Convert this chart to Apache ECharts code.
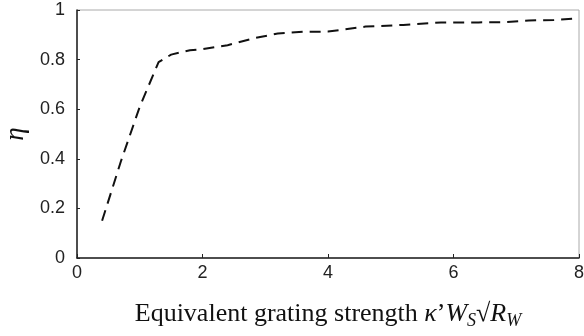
<!DOCTYPE html>
<html>
<head>
<meta charset="utf-8">
<script src="https://cdn.jsdelivr.net/npm/echarts@6/dist/echarts.min.js"></script>
<style>
  html, body { margin: 0; padding: 0; background: #fff; }
  #chart { width: 584px; height: 336px; }
</style>
</head>
<body>
<div id="chart"></div>
<script>
// grating strength vs efficiency
const strength = [0.4, 0.7, 1.0, 1.3, 1.5, 1.8, 2.0, 2.4, 2.8, 3.2, 3.6, 4.0, 4.6, 5.2, 5.8, 6.4, 6.8, 7.2, 7.6, 8.0];
const eta = [0.15, 0.39, 0.61, 0.79, 0.82, 0.838, 0.842, 0.858, 0.885, 0.905, 0.912, 0.913, 0.933, 0.94, 0.95, 0.95, 0.951, 0.958, 0.96, 0.967];
const xTicks = [0, 2, 4, 6, 8];
const yTicks = [0, 0.2, 0.4, 0.6, 0.8, 1];

const chart = echarts.init(document.getElementById("chart"));
chart.setOption({
  animation: false,
  grid: {
    left: 77,
    right: 5,
    top: 10,
    bottom: 78,
    outerBoundsMode: "none",
    show: true,
    borderColor: "#aaa",
    borderWidth: 1
  },
  xAxis: {
    type: "value",
    min: xTicks[0],
    max: xTicks[xTicks.length - 1],
    interval: 2,
    splitLine: { show: false },
    axisLine: { lineStyle: { color: "#222", width: 1.5 } },
    axisTick: { inside: true, length: 4, lineStyle: { color: "#222" } },
    axisLabel: {
      color: "#222",
      fontSize: 18,
      fontFamily: "Liberation Sans",
      margin: 6
    },
    name: "{n|Equivalent grating strength }{i|κ}{n|’}{i|W}{s|S}{n|√}{i|R}{s|W}",
    nameLocation: "middle",
    nameGap: 41,
    nameTextStyle: {
      rich: {
        n: { fontFamily: "Liberation Serif", fontSize: 26, color: "#111" },
        i: { fontFamily: "Liberation Serif", fontSize: 26, fontStyle: "italic", color: "#111" },
        s: { fontFamily: "Liberation Serif", fontSize: 18, fontStyle: "italic", color: "#111", padding: [13, 0, 0, 0] }
      }
    }
  },
  yAxis: {
    type: "value",
    min: yTicks[0],
    max: yTicks[yTicks.length - 1],
    interval: 0.2,
    splitLine: { show: false },
    axisLine: { show: true, lineStyle: { color: "#222", width: 1.5 } },
    axisTick: { show: true, inside: true, length: 3, lineStyle: { color: "#222" } },
    axisLabel: {
      color: "#222",
      fontSize: 18,
      fontFamily: "Liberation Sans",
      margin: 12
    },
    name: "η",
    nameLocation: "middle",
    nameGap: 45,
    nameTextStyle: {
      fontFamily: "Liberation Serif",
      fontStyle: "italic",
      fontSize: 27,
      color: "#111"
    }
  },
  series: [{
    type: "line",
    data: strength.map((x, i) => [x, eta[i]]),
    symbol: "none",
    smooth: false,
    lineStyle: { color: "#111", width: 2, type: [11, 7] }
  }]
});
</script>
</body>
</html>
